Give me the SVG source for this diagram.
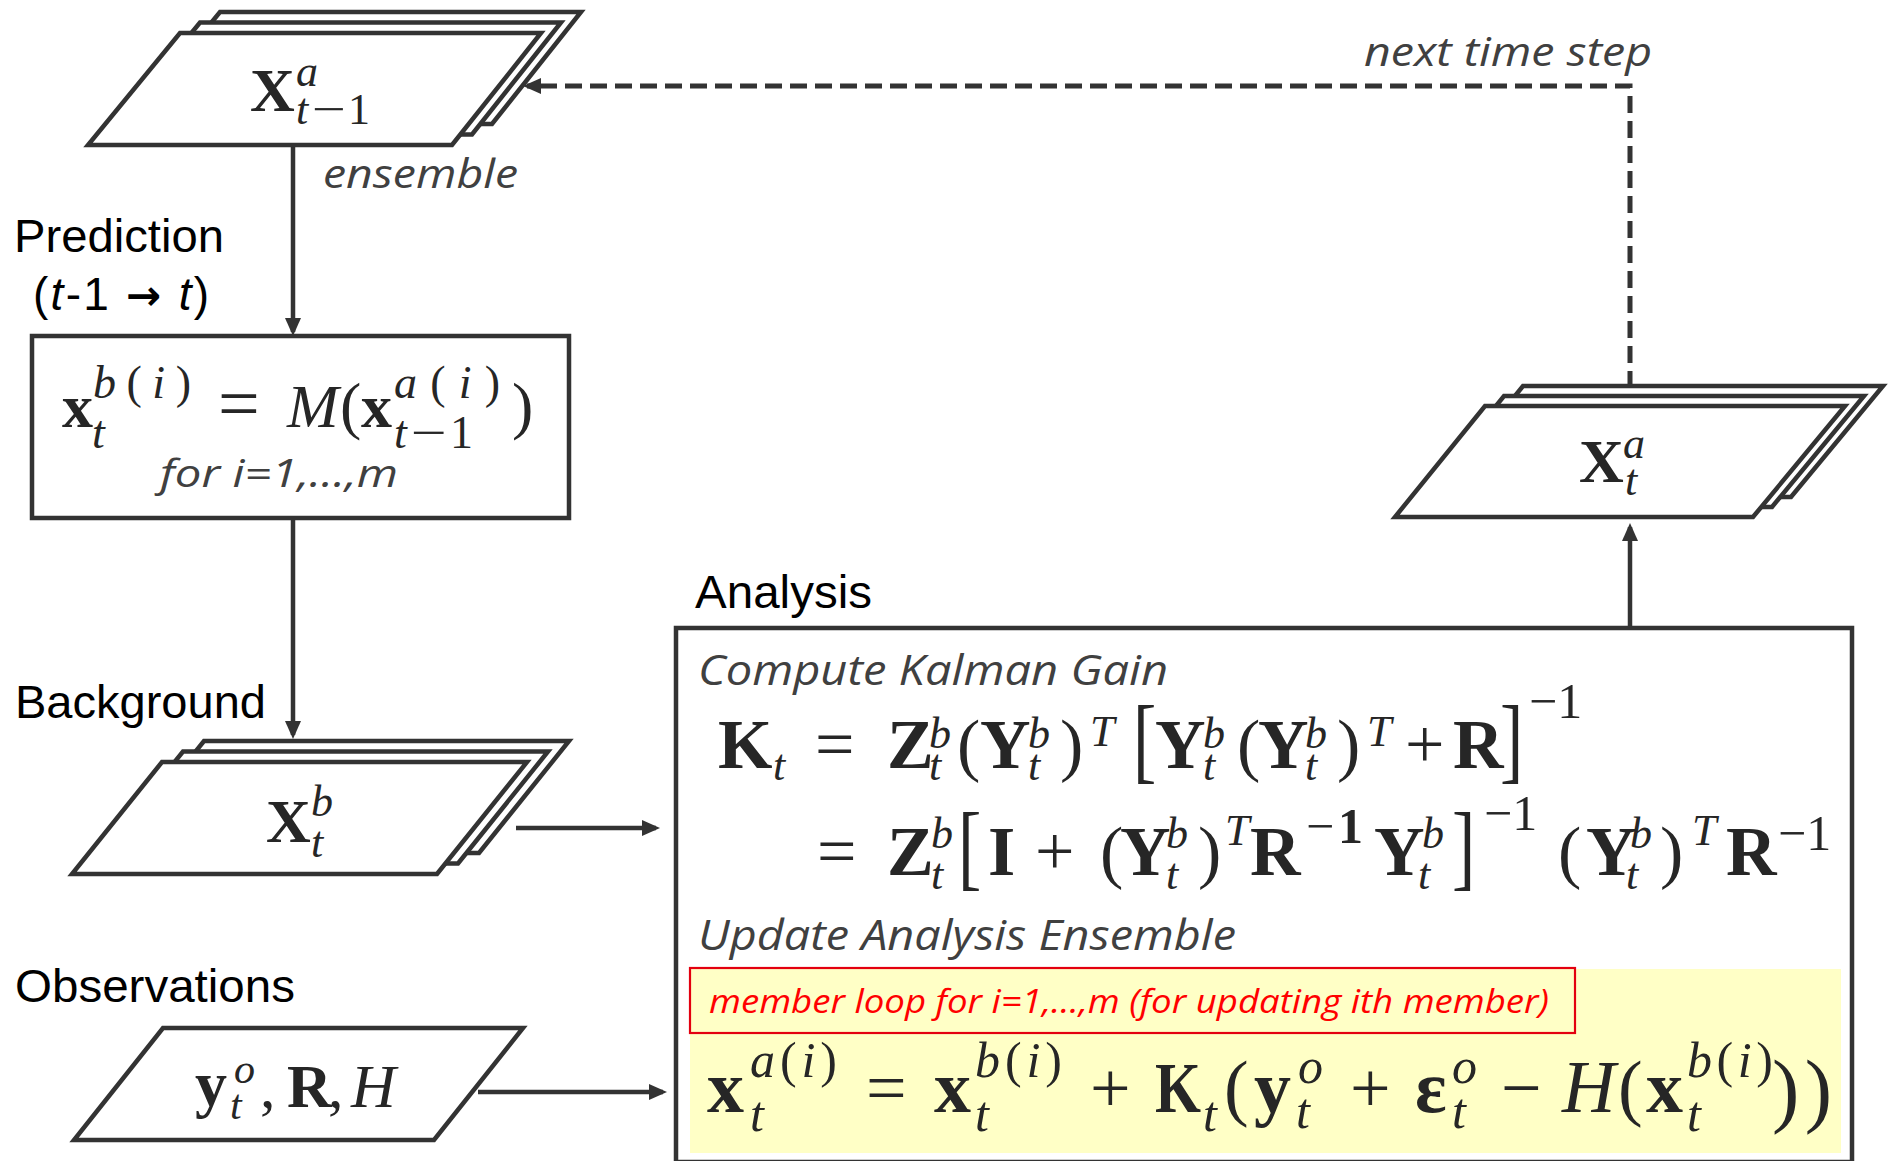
<svg xmlns="http://www.w3.org/2000/svg" width="1890" height="1161" viewBox="0 0 1890 1161">
<defs>
<style>
.shape{fill:#fff;stroke:#333;stroke-width:4.5;stroke-linejoin:miter}
.conn{fill:none;stroke:#333;stroke-width:4.5}
.dash{stroke-dasharray:17 8;stroke-width:5}
.lbl{font-family:"Liberation Sans",Arial,sans-serif;font-size:46px;fill:#000}
.note{font-family:"Open Sans","Noto Sans",sans-serif;font-style:italic;fill:#404040}
.mb{font-family:"Liberation Serif","Times New Roman",serif;font-weight:bold;fill:#262626}
.mi{font-family:"Liberation Serif","Times New Roman",serif;font-style:italic;fill:#262626}
.mr{font-family:"Liberation Serif","Times New Roman",serif;fill:#262626}
.it{font-style:italic}
</style>
<marker id="ah" viewBox="0 0 18 16" markerWidth="18" markerHeight="16" markerUnits="userSpaceOnUse" refX="14" refY="8" orient="auto">
<path d="M0,0 L18,8 L0,16 Z" fill="#333" stroke="none"/>
</marker>
</defs>
<rect width="1890" height="1161" fill="#fff"/>

<!-- labels -->
<text class="lbl" x="14" y="252" textLength="210" lengthAdjust="spacingAndGlyphs">Prediction</text>
<text class="lbl" x="33" y="310" textLength="176" lengthAdjust="spacing">(<tspan class="it">t</tspan>-1 <tspan font-family="DejaVu Sans, sans-serif" font-weight="bold" font-size="42">→</tspan> <tspan class="it">t</tspan>)</text>
<text class="lbl" x="15" y="718" textLength="251" lengthAdjust="spacingAndGlyphs">Background</text>
<text class="lbl" x="15" y="1002" textLength="280" lengthAdjust="spacingAndGlyphs">Observations</text>
<text class="lbl" x="695" y="608" textLength="177" lengthAdjust="spacingAndGlyphs">Analysis</text>
<text class="note" x="323" y="188" font-size="40" textLength="195" lengthAdjust="spacingAndGlyphs">ensemble</text>
<text class="note" x="1364" y="66" font-size="40" textLength="288" lengthAdjust="spacingAndGlyphs">next time step</text>

<!-- connectors -->
<g id="connectors">
<path class="conn" d="M293,147 V332" marker-end="url(#ah)"/>
<path class="conn" d="M293,520 V735" marker-end="url(#ah)"/>
<path class="conn" d="M516,828 H656" marker-end="url(#ah)"/>
<path class="conn" d="M478,1092 H663" marker-end="url(#ah)"/>
<path class="conn" d="M1630,628 V527" marker-end="url(#ah)"/>
<path class="conn dash" d="M1630,388 V86 H527" marker-end="url(#ah)"/>
</g>

<!-- X^a_{t-1} -->
<g id="node-xa-prev">
<polygon class="shape" points="220,12 581,12 492,124 128,124"/>
<polygon class="shape" points="200,22.5 561,22.5 472,134.5 108,134.5"/>
<polygon class="shape" points="180,33 541,33 452,145 88,145"/>
<text class="mb" x="250" y="111" font-size="62">X</text>
<text class="mi" x="296" y="86" font-size="44">a</text>
<text class="mi" x="296" y="124" font-size="44">t</text>
<text class="mr" x="312" y="124" font-size="44" textLength="34" lengthAdjust="spacingAndGlyphs">−</text>
<text class="mr" x="348" y="124" font-size="44">1</text>
</g>

<!-- Prediction box -->
<g id="node-prediction">
<rect class="shape" x="32" y="336" width="537" height="182"/>
<text class="mb" x="62" y="427" font-size="62">x</text>
<text class="mr" x="93" y="398" font-size="46" textLength="98" lengthAdjust="spacing"><tspan class="it">b</tspan>(<tspan class="it">i</tspan>)</text>
<text class="mi" x="92" y="448" font-size="46">t</text>
<text class="mr" x="218" y="428" font-size="74">=</text>
<text class="mi" x="287" y="427" font-size="62">M</text>
<text class="mr" x="340" y="427" font-size="64">(</text>
<text class="mb" x="361" y="427" font-size="62">x</text>
<text class="mr" x="394" y="398" font-size="46" textLength="106" lengthAdjust="spacing"><tspan class="it">a</tspan>(<tspan class="it">i</tspan>)</text>
<text class="mi" x="394" y="448" font-size="46">t</text>
<text class="mr" x="411" y="448" font-size="46" textLength="36" lengthAdjust="spacingAndGlyphs">−</text>
<text class="mr" x="450" y="448" font-size="46">1</text>
<text class="mr" x="512" y="427" font-size="64">)</text>
<text class="note" x="160" y="487" font-size="38" textLength="238" lengthAdjust="spacingAndGlyphs">for i=1,…,m</text>
</g>

<!-- X^b_t -->
<g id="node-xb">
<polygon class="shape" points="204,741 569,741 479,853 114,853"/>
<polygon class="shape" points="183,751.5 548,751.5 458,863.5 93,863.5"/>
<polygon class="shape" points="162,762 527,762 437,874 72,874"/>
<text class="mb" x="266" y="842" font-size="62">X</text>
<text class="mi" x="311" y="816" font-size="44">b</text>
<text class="mi" x="311" y="857" font-size="44">t</text>
</g>

<!-- Observations -->
<g id="node-obs">
<polygon class="shape" points="163,1028 523,1028 434,1140 74,1140"/>
<text class="mb" x="195" y="1105" font-size="64">y</text>
<text class="mi" x="234" y="1083" font-size="42">o</text>
<text class="mi" x="230" y="1119" font-size="42">t</text>
<text class="mr" x="260" y="1107" font-size="62">,</text>
<text class="mb" x="287" y="1107" font-size="62">R</text>
<text class="mr" x="328" y="1107" font-size="62">,</text>
<text class="mi" x="351" y="1107" font-size="62">H</text>
</g>

<!-- X^a_t -->
<g id="node-xa">
<polygon class="shape" points="1523,386 1883,386 1791,497 1433,497"/>
<polygon class="shape" points="1504,396 1864,396 1772,507 1414,507"/>
<polygon class="shape" points="1485,406 1845,406 1753,517 1395,517"/>
<text class="mb" x="1579" y="482" font-size="62">X</text>
<text class="mi" x="1623" y="458" font-size="44">a</text>
<text class="mi" x="1625" y="495" font-size="44">t</text>
</g>

<!-- Analysis box -->
<g id="node-analysis">
<rect class="shape" x="676" y="628" width="1176" height="534"/>
<rect x="690" y="969" width="1151" height="184" fill="#FFFFC6"/>
<rect x="690" y="968" width="885" height="65" fill="none" stroke="#E3000F" stroke-width="2.2"/>
<text class="note" x="698" y="685" font-size="42" textLength="470" lengthAdjust="spacingAndGlyphs">Compute Kalman Gain</text>
<text class="note" x="698" y="950" font-size="42" textLength="538" lengthAdjust="spacingAndGlyphs">Update Analysis Ensemble</text>
<text class="note" x="709" y="1013" font-size="33" style="fill:#FF0000" textLength="840" lengthAdjust="spacingAndGlyphs">member loop for i=1,…,m (for updating ith member)</text>

<!-- K line 1 -->
<text class="mb" x="718" y="768" font-size="70">K</text>
<text class="mi" x="773" y="780" font-size="44">t</text>
<text class="mr" x="815" y="768" font-size="70">=</text>
<text class="mb" x="887" y="768" font-size="70">Z</text>
<text class="mi" x="929" y="748" font-size="44">b</text>
<text class="mi" x="929" y="780" font-size="44">t</text>
<text class="mr" x="957" y="768" font-size="70">(</text>
<text class="mb" x="980" y="768" font-size="70">Y</text>
<text class="mi" x="1028" y="748" font-size="44">b</text>
<text class="mi" x="1028" y="780" font-size="44">t</text>
<text class="mr" x="1060" y="768" font-size="70">)</text>
<text class="mi" x="1090" y="746" font-size="44">T</text>
<text class="mr" transform="translate(1133,771) scale(1,1.35)" font-size="70">[</text>
<text class="mb" x="1155" y="768" font-size="70">Y</text>
<text class="mi" x="1203" y="748" font-size="44">b</text>
<text class="mi" x="1203" y="780" font-size="44">t</text>
<text class="mr" x="1237" y="768" font-size="70">(</text>
<text class="mb" x="1258" y="768" font-size="70">Y</text>
<text class="mi" x="1305" y="748" font-size="44">b</text>
<text class="mi" x="1305" y="780" font-size="44">t</text>
<text class="mr" x="1337" y="768" font-size="70">)</text>
<text class="mi" x="1367" y="746" font-size="44">T</text>
<text class="mr" x="1405" y="768" font-size="70">+</text>
<text class="mb" x="1453" y="768" font-size="70">R</text>
<text class="mr" transform="translate(1500,771) scale(1,1.35)" font-size="70">]</text>
<text class="mr" x="1529" y="718" font-size="50">−1</text>

<!-- K line 2 -->
<text class="mr" x="817" y="875" font-size="70">=</text>
<text class="mb" x="887" y="875" font-size="70">Z</text>
<text class="mi" x="931" y="848" font-size="44">b</text>
<text class="mi" x="931" y="889" font-size="44">t</text>
<text class="mr" transform="translate(958,878) scale(1,1.35)" font-size="70">[</text>
<text class="mb" x="988" y="875" font-size="70">I</text>
<text class="mr" x="1035" y="875" font-size="70">+</text>
<text class="mr" x="1100" y="875" font-size="70">(</text>
<text class="mb" x="1120" y="875" font-size="70">Y</text>
<text class="mi" x="1166" y="848" font-size="44">b</text>
<text class="mi" x="1166" y="889" font-size="44">t</text>
<text class="mr" x="1198" y="875" font-size="70">)</text>
<text class="mi" x="1225" y="845" font-size="44">T</text>
<text class="mb" x="1250" y="875" font-size="70">R</text>
<text class="mr" x="1306" y="843" font-size="50">−</text>
<text class="mb" x="1338" y="843" font-size="50">1</text>
<text class="mb" x="1374" y="875" font-size="70">Y</text>
<text class="mi" x="1422" y="848" font-size="44">b</text>
<text class="mi" x="1418" y="889" font-size="44">t</text>
<text class="mr" transform="translate(1452,878) scale(1,1.35)" font-size="70">]</text>
<text class="mr" x="1484" y="830" font-size="50">−1</text>
<text class="mr" x="1558" y="875" font-size="70">(</text>
<text class="mb" x="1586" y="875" font-size="70">Y</text>
<text class="mi" x="1630" y="848" font-size="44">b</text>
<text class="mi" x="1626" y="889" font-size="44">t</text>
<text class="mr" x="1660" y="875" font-size="70">)</text>
<text class="mi" x="1692" y="845" font-size="44">T</text>
<text class="mb" x="1726" y="875" font-size="70">R</text>
<text class="mr" x="1778" y="850" font-size="50">−1</text>

<!-- update formula -->
<text class="mb" x="707" y="1112" font-size="74">x</text>
<text class="mr" x="750" y="1077" font-size="50" textLength="87" lengthAdjust="spacing"><tspan class="it">a</tspan>(<tspan class="it">i</tspan>)</text>
<text class="mi" x="750" y="1131" font-size="50">t</text>
<text class="mr" x="866" y="1112" font-size="72">=</text>
<text class="mb" x="934" y="1112" font-size="74">x</text>
<text class="mr" x="975" y="1077" font-size="50" textLength="87" lengthAdjust="spacing"><tspan class="it">b</tspan>(<tspan class="it">i</tspan>)</text>
<text class="mi" x="975" y="1131" font-size="50">t</text>
<text class="mr" x="1090" y="1112" font-size="72">+</text>
<text class="mb" x="1155" y="1112" font-size="72" textLength="46" lengthAdjust="spacingAndGlyphs">K</text>
<text class="mi" x="1203" y="1131" font-size="50">t</text>
<text class="mr" x="1224" y="1112" font-size="74">(</text>
<text class="mb" x="1254" y="1112" font-size="74">y</text>
<text class="mi" x="1298" y="1083" font-size="50">o</text>
<text class="mi" x="1296" y="1128" font-size="50">t</text>
<text class="mr" x="1350" y="1112" font-size="72">+</text>
<text class="mb" x="1415" y="1112" font-size="74">ε</text>
<text class="mi" x="1452" y="1083" font-size="50">o</text>
<text class="mi" x="1452" y="1128" font-size="50">t</text>
<text class="mr" x="1501" y="1112" font-size="72">−</text>
<text class="mi" x="1562" y="1112" font-size="74">H</text>
<text class="mr" x="1618" y="1112" font-size="74">(</text>
<text class="mb" x="1646" y="1112" font-size="74">x</text>
<text class="mr" x="1687" y="1077" font-size="50" textLength="86" lengthAdjust="spacing"><tspan class="it">b</tspan>(<tspan class="it">i</tspan>)</text>
<text class="mi" x="1687" y="1131" font-size="50">t</text>
<text class="mr" x="1772" y="1117" font-size="82" textLength="60" lengthAdjust="spacing">))</text>
</g>
</svg>
